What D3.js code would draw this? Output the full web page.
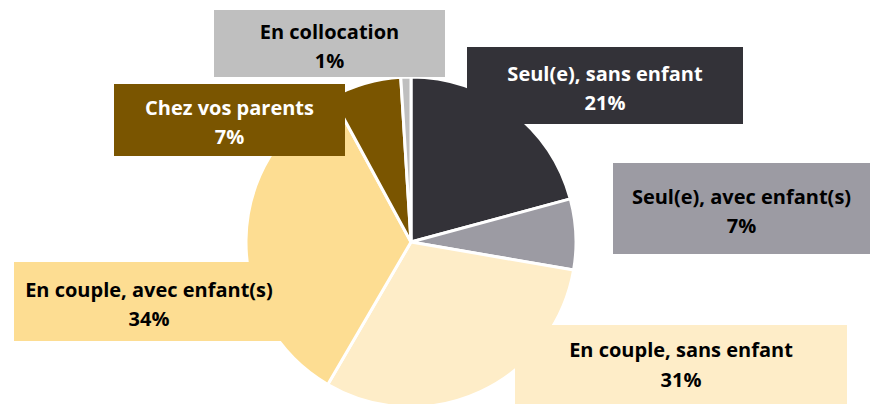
<!DOCTYPE html>
<html lang="fr">
<head>
<meta charset="UTF-8">
<title>Situation familiale</title>
<script src="https://cdn.jsdelivr.net/npm/d3@7/dist/d3.min.js"></script>
<style>
    body { margin: 0; background: #fff; }
    .lbl text {
        font-family: "Open Sans", Lato, sans-serif;
        font-weight: bold;
        font-size: 20px;
    }
</style>
</head>
<body>
<script>
	// données
	var categories = ["Seul(e), sans enfant", "Seul(e), avec enfant(s)", "En couple, sans enfant",
		"En couple, avec enfant(s)", "Chez vos parents", "En collocation"];
	var values = [21, 7, 31, 34, 7, 1];
	var colors = ["#333238", "#9c9ba3", "#feedc8", "#fddd92", "#7a5500", "#bfbfbf"];
	var textColors = ["#fff", "#000", "#000", "#000", "#fff", "#000"];

	var width = 871, height = 404;
	var cx = 411, cy = 242, radius = 165;

	var svg = d3.select("body").append("svg")
		.attr("width", width)
		.attr("height", height);

	var pie = d3.pie().sort(null).value(function (d) { return d; });
	var arc = d3.arc().innerRadius(0).outerRadius(radius);
	var arcs = pie(values);

	var g = svg.append("g").attr("transform", "translate(" + cx + "," + cy + ")");
	g.selectAll("path")
		.data(arcs)
		.enter()
		.append("path")
		.attr("d", arc)
		.attr("fill", function (d, i) { return colors[i]; })
		.attr("stroke", "#fff")
		.attr("stroke-width", 3)
		.attr("stroke-linejoin", "round");

	// boîtes des étiquettes (x, y, largeur, hauteur)
	var boxes = [
		[467, 47, 276, 77],
		[613, 163, 257, 91],
		[515, 325, 332, 85],
		[14, 262, 270, 79],
		[114, 84, 231, 72],
		[214, 10, 231, 67]
	];

	var lbl = svg.selectAll("g.lbl")
		.data(arcs)
		.enter()
		.append("g")
		.attr("class", "lbl");

	lbl.append("rect")
		.attr("x", function (d, i) { return boxes[i][0]; })
		.attr("y", function (d, i) { return boxes[i][1]; })
		.attr("width", function (d, i) { return boxes[i][2]; })
		.attr("height", function (d, i) { return boxes[i][3]; })
		.attr("fill", function (d, i) { return colors[i]; });

	var txt = lbl.append("text")
		.attr("text-anchor", "middle")
		.attr("fill", function (d, i) { return textColors[i]; });

	txt.append("tspan")
		.attr("x", function (d, i) { return boxes[i][0] + boxes[i][2] / 2; })
		.attr("y", function (d, i) { return i == 2 ? 357 : boxes[i][1] + boxes[i][3] / 2 - 5; })
		.text(function (d, i) { return categories[i]; });
	txt.append("tspan")
		.attr("x", function (d, i) { return boxes[i][0] + boxes[i][2] / 2; })
		.attr("y", function (d, i) { return i == 2 ? 387 : boxes[i][1] + boxes[i][3] / 2 + 24; })
		.text(function (d) { return d.data + "%"; });
</script>
</body>
</html>
